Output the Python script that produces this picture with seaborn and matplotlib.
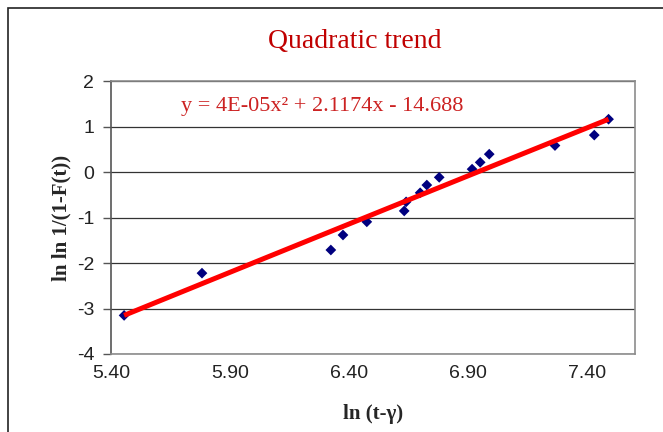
import numpy as np
import pandas as pd
import seaborn as sns
import matplotlib.pyplot as plt
from matplotlib.patches import Rectangle

# values
ln_t = [5.455, 5.782, 6.323, 6.374, 6.474, 6.631, 6.639, 6.698, 6.726, 6.778,
        6.916, 6.950, 6.988, 7.264, 7.429, 7.489]
ln_ln = [-3.15, -2.22, -1.71, -1.38, -1.09, -0.85, -0.65, -0.45, -0.28, -0.11,
         0.07, 0.22, 0.40, 0.59, 0.82, 1.17]
x_ticks = [5.40, 5.90, 6.40, 6.90, 7.40]
y_ticks = [-4, -3, -2, -1, 0, 1, 2]
equation = "y = 4E-05x\u00b2 + 2.1174x - 14.688"

df = pd.DataFrame({"x": ln_t, "y": ln_ln})

sns.set_style("white")
plt.rcParams["font.family"] = ["Liberation Sans", "DejaVu Sans"]
plt.rcParams["axes.unicode_minus"] = False

fig = plt.figure(figsize=(6.63, 4.32), dpi=100)
ax = fig.add_axes([111 / 663, 1 - 354 / 432, (635 - 111) / 663, (354 - 81.5) / 432])

sns.scatterplot(data=df, x="x", y="y", marker="D", s=30, color="#00007f",
                edgecolor="none", ax=ax, zorder=3)
sns.regplot(data=df, x="x", y="y", order=2, ci=None, scatter=False,
            color="#ff0000", line_kws={"lw": 3.6, "solid_capstyle": "butt", "zorder": 4}, ax=ax)

ax.set_xlim(5.40, 7.60)
ax.set_ylim(-4, 2)
ax.set_xticks(x_ticks)
ax.set_xticklabels([f"{v:.2f}" for v in x_ticks])
ax.set_yticks(y_ticks)
ax.tick_params(axis="both", labelsize=14, colors="#222222")
ax.tick_params(axis="x", length=0, pad=8)
ax.tick_params(axis="y", length=6, width=1, color="#555555", direction="out", pad=6, left=True)
ax.grid(axis="y", color="#333333", lw=0.9)
ax.set_axisbelow(True)
for side in ["top", "right", "bottom"]:
    ax.spines[side].set_color("#8c8c8c")
    ax.spines[side].set_linewidth(1.2)
ax.spines["left"].set_color("#555555")
ax.spines["left"].set_linewidth(1.2)

serif = ["Liberation Serif", "DejaVu Serif"]
ax.set_xlabel("ln (t-\u03b3)", family=serif, fontsize=15, fontweight="bold", labelpad=16)
ax.set_ylabel("ln ln 1/(1-F(t))", family=serif, fontsize=15, fontweight="bold", labelpad=4)

fig.text(355 / 663, 1 - 42 / 432, "Quadratic trend", family=serif, fontsize=20,
         color="#c00000", ha="center", va="center")
fig.text(181 / 663, 1 - 106 / 432, equation, family=serif, fontsize=16,
         color="#cc2222", ha="left", va="center")

fig.patches.append(Rectangle((8 / 663, -0.1), 1.2, 1.1 - 8 / 432, transform=fig.transFigure,
                             fill=False, edgecolor="#222222", lw=1.2))

fig.savefig("out.png", dpi=100)
